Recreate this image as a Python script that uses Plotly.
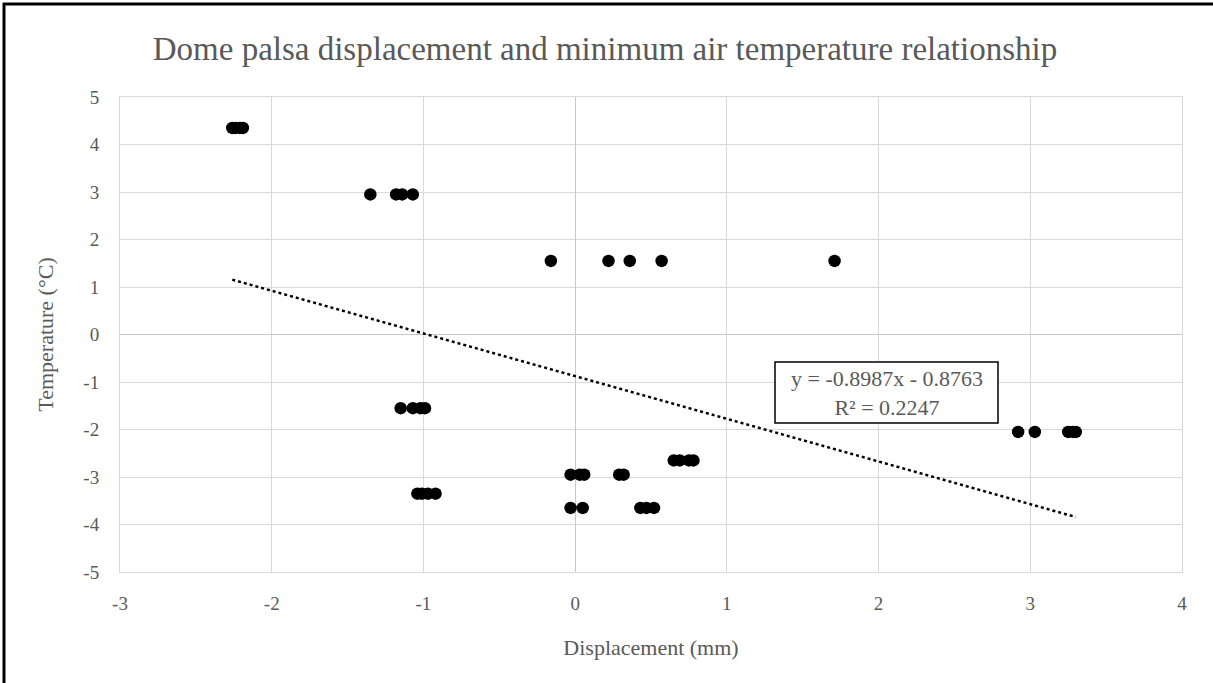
import plotly.graph_objects as go

# ---- data ----
displacement_mm = [
    -2.26, -2.24, -2.21, -2.19,
    -1.35, -1.18, -1.14, -1.07,
    -0.16, 0.22, 0.36, 0.57, 1.71,
    -1.15, -1.07, -1.02, -0.99,
    -1.04, -1.01, -0.97, -0.92,
    -0.03, 0.03, 0.06, 0.29, 0.32,
    -0.03, 0.05, 0.43, 0.47, 0.52,
    0.65, 0.69, 0.75, 0.78,
    2.92, 3.03, 3.25, 3.28, 3.30,
]
temperature_c = (
    [4.35] * 4 + [2.95] * 4 + [1.55] * 5 + [-1.55] * 4 + [-3.35] * 4
    + [-2.95] * 5 + [-3.65] * 5 + [-2.65] * 4 + [-2.05] * 5
)
trend_slope = -0.8987
trend_intercept = -0.8763
trend_r2 = 0.2247

x_ticks = [-3, -2, -1, 0, 1, 2, 3, 4]
y_ticks = [-5, -4, -3, -2, -1, 0, 1, 2, 3, 4, 5]

# ---- figure ----
FONT = "Liberation Serif, Times New Roman, serif"
GREY = "#595959"

trend_x = [min(displacement_mm), max(displacement_mm)]
trend_y = [trend_slope * v + trend_intercept for v in trend_x]

fig = go.Figure()
fig.add_trace(go.Scatter(
    x=trend_x, y=trend_y, mode="lines",
    line=dict(color="black", width=2.5, dash="dot"),
    hoverinfo="skip", showlegend=False,
))
fig.add_trace(go.Scatter(
    x=displacement_mm, y=temperature_c, mode="markers",
    marker=dict(color="black", size=12.5, line=dict(width=0)),
    showlegend=False,
))

L, R, T, B = 120, 31, 97, 111
W, H = 1213, 683
pw, ph = W - L - R, H - T - B

def px_x(px):
    return (px - L) / pw

def px_y(py):
    return (H - B - py) / ph

fig.update_layout(
    width=W, height=H,
    margin=dict(l=L, r=R, t=T, b=B),
    paper_bgcolor="white", plot_bgcolor="white",
    font=dict(family=FONT, color=GREY, size=19),
    title=dict(
        text="Dome palsa displacement and minimum air temperature relationship",
        x=px_x(605), xanchor="center", xref="paper",
        y=1 - 48 / H, yanchor="middle",
        font=dict(family=FONT, size=33, color=GREY),
    ),
    xaxis=dict(
        range=[-3, 4], tickvals=x_ticks, ticktext=[str(v) for v in x_ticks],
        showgrid=True, gridcolor="#d9d9d9", gridwidth=1,
        zeroline=True, zerolinecolor="#c8c8c8", zerolinewidth=1,
        showline=True, linecolor="#d9d9d9", mirror=True,
        ticks="", ticklabelstandoff=14,
        tickfont=dict(size=19, color=GREY, family=FONT),
        title=dict(text="Displacement (mm)", standoff=26,
                   font=dict(size=22, color=GREY, family=FONT)),
    ),
    yaxis=dict(
        range=[-5, 5], tickvals=y_ticks, ticktext=[str(v) for v in y_ticks],
        showgrid=True, gridcolor="#d9d9d9", gridwidth=1,
        zeroline=True, zerolinecolor="#c8c8c8", zerolinewidth=1,
        showline=True, linecolor="#d9d9d9", mirror=True,
        ticks="", ticklabelstandoff=16,
        tickfont=dict(size=19, color=GREY, family=FONT),
        title=dict(text="Temperature (°C)", standoff=23,
                   font=dict(size=22, color=GREY, family=FONT)),
    ),
    shapes=[
        dict(type="line", xref="paper", yref="paper",
             x0=px_x(3), x1=px_x(1220), y0=px_y(4), y1=px_y(4),
             line=dict(color="black", width=3)),
        dict(type="line", xref="paper", yref="paper",
             x0=px_x(4), x1=px_x(4), y0=px_y(3), y1=px_y(690),
             line=dict(color="black", width=3)),
        dict(type="rect", xref="paper", yref="paper",
             x0=px_x(775), x1=px_x(998), y0=px_y(362), y1=px_y(423),
             fillcolor="white", line=dict(color="black", width=1.5),
             layer="above"),
    ],
    annotations=[
        dict(
            xref="paper", yref="paper", x=px_x(886.5), y=px_y(392.5),
            xanchor="center", yanchor="middle",
            text=f"y = {trend_slope}x - {abs(trend_intercept)}<br>R² = {trend_r2}",
            showarrow=False, align="center",
            font=dict(family=FONT, size=22, color=GREY),
        )
    ],
)

fig.write_html("out.html", config={"displayModeBar": False},
               post_script="document.body.style.margin='0px';")
